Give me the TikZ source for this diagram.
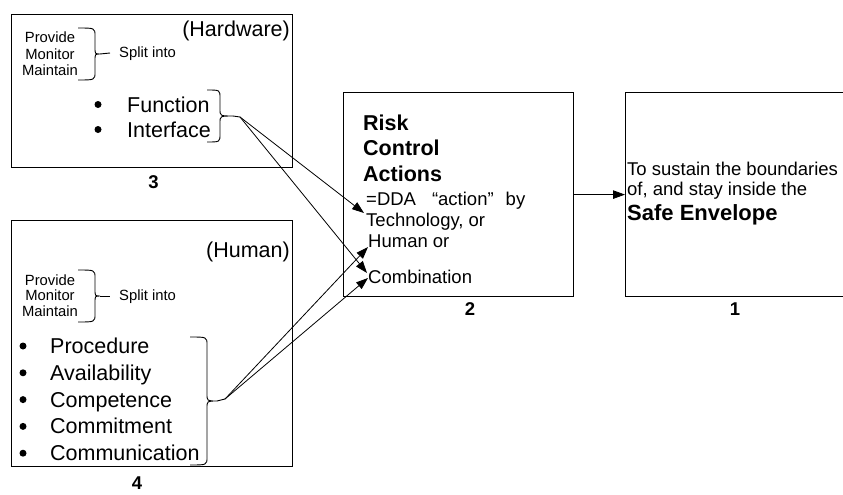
\documentclass[tikz,border=0pt]{standalone}
\usepackage{fontspec}
\setmainfont{Liberation Sans}
\usetikzlibrary{arrows.meta}

% right curly brace: name of tip coordinate, x of the ends, top y, bottom y, offset of the spine, length of the tip
\newcommand{\drawbrace}[6]{%
  \draw[bracestyle] (#2,#3) .. controls ({#2+#5},#3) .. ({#2+#5},{#3+8})
    -- ({#2+#5},{(#3+#4)/2-7}) .. controls ({#2+#5},{(#3+#4)/2}) .. ({#2+#5+#6},{(#3+#4)/2}) coordinate (#1)
    .. controls ({#2+#5},{(#3+#4)/2}) .. ({#2+#5},{(#3+#4)/2+7})
    -- ({#2+#5},{#4-8}) .. controls ({#2+#5},#4) .. (#2,#4);}

\tikzset{
  box/.style={draw, line width=1.2pt, inner sep=0pt, anchor=north west},
  bracestyle/.style={line width=0.9pt},
  bigtxt/.style={font=\fontsize{21.5}{25}\selectfont, inner sep=0pt},
  bigbold/.style={font=\fontsize{21.5}{25}\selectfont\bfseries, inner sep=0pt},
  smalltxt/.style={font=\fontsize{14.8}{17}\selectfont, inner sep=0pt},
  midtxt/.style={font=\fontsize{18.5}{21}\selectfont, inner sep=0pt},
  midbold/.style={font=\fontsize{22}{25}\selectfont\bfseries, inner sep=0pt},
  numtxt/.style={font=\fontsize{18.5}{21}\selectfont\bfseries, inner sep=0pt, anchor=base},
  dot/.style={circle, fill, inner sep=0pt, minimum size=7pt},
  link/.style={line width=0.8pt, -{Triangle[length=12pt,width=8.5pt]}},
  tail/.style={line width=0.9pt},
}

\begin{document}
\begin{tikzpicture}[x=1pt, y=-1pt]
\useasboundingbox (0,0) rectangle (843,495);
\begin{scope}
\clip (0,0) rectangle (843,495);

% ---- block 3: hardware ----
\node[box, minimum width=281pt, minimum height=153pt] (hw) at (11,14) {};
\node[bigtxt, anchor=base east] (hwtitle) at (290,37) {(Hardware)};
\foreach \t/\y [count=\i] in {Provide/43,Monitor/59.5,Maintain/76}
  \node[smalltxt, anchor=base] (hwp\i) at (50,\y) {\t};
\drawbrace{hwsb}{78}{28}{80}{17}{5}
\node[smalltxt, anchor=base west] (hwsplit) at (119,58) {Split into};
\draw[tail] (hwsb) -- (110,53);
\node[dot] (hwd1) at (98,104.5) {};
\node[dot] (hwd2) at (98,129.5) {};
\node[bigtxt, anchor=base west] (hwf) at (127,112) {Function};
\node[bigtxt, anchor=base west] (hwi) at (127,137) {Interface};
\drawbrace{hwbb}{207}{90}{142}{13}{13}
\coordinate (hwtip) at (240,117);
\draw[tail] (hwbb) -- (hwtip);
\node[numtxt] (n3) at (153.5,188) {3};

% ---- block 4: human ----
\node[box, minimum width=281pt, minimum height=246pt] (hu) at (11,220) {};
\node[bigtxt, anchor=base east] (hutitle) at (290,257) {(Human)};
\foreach \t/\y [count=\i] in {Provide/285,Monitor/300.5,Maintain/316}
  \node[smalltxt, anchor=base] (hup\i) at (50,\y) {\t};
\drawbrace{husb}{78}{270}{322}{17}{5}
\node[smalltxt, anchor=base west] (husplit) at (119,300) {Split into};
\draw[tail] (husb) -- (110,296);
\foreach \t [count=\i] in {Procedure,Availability,Competence,Commitment,Communication}{
  \node[dot] (hud\i) at (23,{353.5+26.8*(\i-1)-7.5}) {};
  \node[bigtxt, anchor=base west] (hul\i) at (50,{353.5+26.8*(\i-1)}) {\t};
}
\drawbrace{hubb}{190}{337}{465}{17}{10}
\coordinate (hutip) at (225,399);
\draw[tail] (hubb) -- (hutip);
\node[numtxt] (n4) at (137,489) {4};

% ---- block 2: risk control actions ----
\node[box, minimum width=230pt, minimum height=204pt] (rc) at (343,92) {};
\node[bigbold, anchor=base west] (rc1) at (363,130) {Risk};
\node[bigbold, anchor=base west] (rc2) at (363,155) {Control};
\node[bigbold, anchor=base west] (rc3) at (363,181) {Actions};
\node[midtxt, anchor=base west] (rc4) at (366,205) {=DDA\hspace{16pt}“action”\hspace{12pt}by};
\node[midtxt, anchor=base west] (rc5) at (366,226) {Technology, or};
\node[midtxt, anchor=base west] (rc6) at (368,247) {Human or};
\node[midtxt, anchor=base west] (rc7) at (368,283) {Combination};
\node[numtxt] (n2) at (470,315) {2};

% ---- block 1: safe envelope ----
\node[box, minimum width=260pt, minimum height=204pt] (se) at (625,92) {};
\node[midtxt, anchor=base west] (se1) at (627,175) {To sustain the boundaries};
\node[midtxt, anchor=base west] (se2) at (627,195) {of, and stay inside the};
\node[midbold, anchor=base west] (se3) at (627,220) {Safe Envelope};
\node[numtxt] (n1) at (735,315) {1};

% ---- connectors ----
\coordinate (inTech) at (364,213);
\coordinate (inHum) at (368,247);
\coordinate (inComA) at (367,273);
\coordinate (inComB) at (368,278);
\draw[link] (hwtip) -- (inTech);
\draw[link] (hwtip) -- (inComA);
\draw[link] (hutip) -- (inHum);
\draw[link] (hutip) -- (inComB);
\draw[link] (rc.east) -- (se.west);
\end{scope}
\end{tikzpicture}
\end{document}
